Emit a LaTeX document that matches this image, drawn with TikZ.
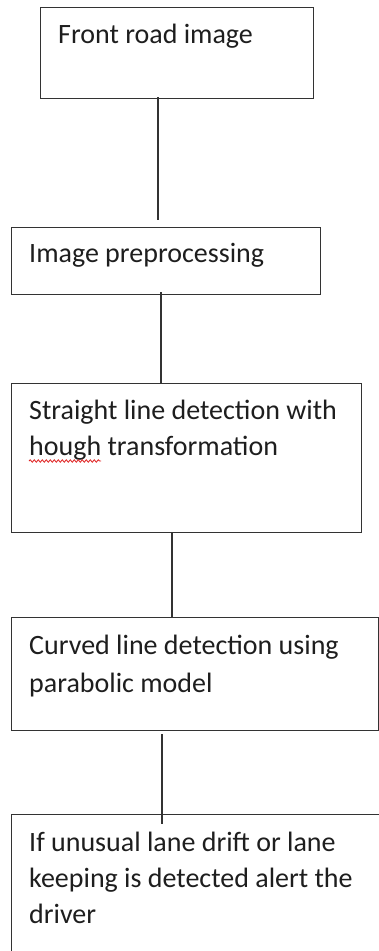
\documentclass[tikz,border=0pt]{standalone}
\usepackage{fontspec}
\setmainfont{Carlito}
\usetikzlibrary{calc,decorations.pathmorphing}
\definecolor{edgecol}{HTML}{333333}
\definecolor{txtcol}{HTML}{1E1E1E}
\definecolor{spellred}{HTML}{E02020}
\begin{document}
\begin{tikzpicture}[x=1pt,y=1pt,
  box/.style={draw=edgecol, line width=1.2pt, rectangle, inner sep=0pt, anchor=north west},
  lbl/.style={anchor=base west, inner sep=0pt, align=left, text=txtcol},
  link/.style={draw=edgecol, line width=1.2pt}]
\useasboundingbox (0,0) rectangle (379,-951);
\fill[white] (0,0) rectangle (379,-951);
\clip (0,0) rectangle (379,-951);
% boxes
\node[box, minimum width=273pt, minimum height=91pt] (b1) at (40,-7) {};
\node[box, minimum width=309pt, minimum height=67pt] (b2) at (11,-227) {};
\node[box, minimum width=350pt, minimum height=149pt] (b3) at (11,-383) {};
\node[box, minimum width=367pt, minimum height=113pt] (b4) at (11,-617) {};
\node[box, minimum width=400pt, minimum height=200pt] (b5) at (11,-814) {};
% texts (base anchor = baseline of the last line)
\node[lbl, font=\fontsize{28}{36}\selectfont] (t1) at (58,-43) {Front road image};
\node[lbl, font=\fontsize{28}{36}\selectfont] (t2) at (29,-262) {Image preprocessing};
\node[lbl, font=\fontsize{28}{36}\selectfont] (t3) at (29,-455) {Straight line detection with\\hough transformation};
\node[lbl, font=\fontsize{28}{38}\selectfont] (t4) at (29,-692) {Curved line detection using\\parabolic model};
\node[lbl, font=\fontsize{28}{36}\selectfont] (t5) at (29,-923) {If unusual lane drift or lane\\keeping is detected alert the\\driver};
% spell-check squiggle under "hough"
\draw[spellred, line width=0.8pt, decorate, decoration={snake, amplitude=1.2pt, segment length=4pt}] (29,-461) -- (101,-461);
% connectors
\draw[link] ([xshift=118pt,yshift=2pt]b1.south west) -- ([xshift=147pt,yshift=7pt]b2.north west);
\draw[link] ([xshift=150pt,yshift=3pt]b2.south west) -- ([xshift=150pt]b3.north west);
\draw[link] ([xshift=161pt]b3.south west) -- ([xshift=161pt]b4.north west);
\draw[link] ([xshift=151pt,yshift=-3pt]b4.south west) -- ([xshift=151pt,yshift=-10pt]b5.north west);
\end{tikzpicture}
\end{document}
